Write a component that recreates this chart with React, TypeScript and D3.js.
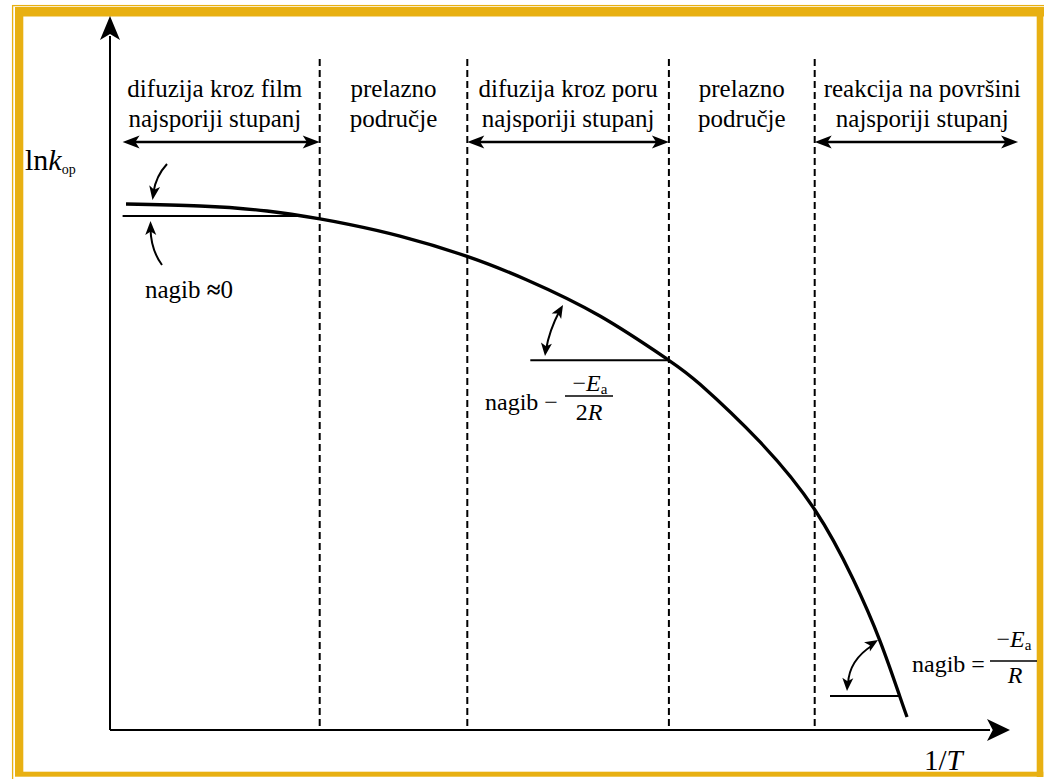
import React from "react";
import * as d3 from "d3";

// ---- data (abstract units: 1/T on x 0..100, ln k_op on y 0..100) ----
const curveX = [1.78, 10.0, 17.44, 23.33, 26.67, 32.22, 39.67, 46.33, 54.44, 61.89, 65.56, 72.22, 78.33, 82.56, 85.56, 87.78, 88.56];
const curveY = [73.67, 73.39, 72.69, 71.57, 70.77, 69.16, 66.34, 63.03, 57.98, 51.96, 48.42, 40.34, 30.81, 21.15, 12.46, 4.62, 1.82];

const regionBounds = [23.3, 39.7, 62.1, 78.3];
const regionEdges = [0, 23.3, 39.7, 62.1, 78.3, 102.2];
const regionLine1 = ["difuzija kroz film", "prelazno", "difuzija kroz poru", "prelazno", "reakcija na površini"];
const regionLine2 = ["najsporiji stupanj", "područje", "najsporiji stupanj", "područje", "najsporiji stupanj"];
const spanStarts = [1.4, 39.7, 78.3];
const spanEnds = [23.3, 62.1, 100.9];

const refX0 = [1.4, 46.7, 80.0];
const refX1 = [21.1, 62.1, 87.8];
const refY = [72.0, 51.8, 4.75];

const FONT = "'Liberation Serif', 'Times New Roman', serif";
const GOLD = "#E8B012";

const xScale = d3.scaleLinear().domain([0, 100]).range([110, 1010]);
const yScale = d3.scaleLinear().domain([0, 100]).range([730, 16]);

function head(tx: number, ty: number, fromX: number, fromY: number, len = 14, hw = 6) {
  const a = Math.atan2(ty - fromY, tx - fromX);
  const bx = tx - len * Math.cos(a);
  const by = ty - len * Math.sin(a);
  const nx = -Math.sin(a) * hw;
  const ny = Math.cos(a) * hw;
  const mx = tx - len * 0.75 * Math.cos(a);
  const my = ty - len * 0.75 * Math.sin(a);
  return `${tx},${ty} ${bx + nx},${by + ny} ${mx},${my} ${bx - nx},${by - ny}`;
}

export default function App() {
  const pts = curveX.map((x, i) => [x, curveY[i]] as [number, number]);
  const line = d3
    .line<[number, number]>()
    .x((d) => xScale(d[0]))
    .y((d) => yScale(d[1]))
    .curve(d3.curveNatural);

  const x0 = xScale(0);
  const y0 = yScale(0);
  const yTop = yScale(100);
  const xEnd = xScale(100);
  const spanY = 142;

  return (
    <svg
      width={1044}
      height={779}
      style={{ position: "absolute", left: 0, top: 0, background: "#fff", fontFamily: FONT }}
    >
      <rect x={0} y={0} width={1044} height={779} fill="#fff" />
      {/* frame */}
      <rect x={12.6} y={5.6} width={1200} height={1200} fill="none" stroke={GOLD} strokeWidth={1.3} />
      <rect x={15} y={7} width={8.3} height={765} fill={GOLD} />
      <rect x={15} y={7} width={1029} height={9.5} fill={GOLD} />
      <rect x={1036.7} y={7} width={6.6} height={770} fill={GOLD} />
      <rect x={15} y={771.7} width={1028.3} height={5} fill={GOLD} />

      {/* axes */}
      <line x1={x0} y1={y0} x2={x0} y2={yTop + 20} stroke="#000" strokeWidth={2} />
      <polygon points={head(x0, yTop, x0, y0, 24, 10)} fill="#000" />
      <line x1={x0} y1={y0} x2={xEnd - 20} y2={y0} stroke="#000" strokeWidth={2} />
      <polygon points={head(xEnd, y0, x0, y0, 23, 11)} fill="#000" />

      {/* region boundaries */}
      {regionBounds.map((b, i) => (
        <line key={i} x1={xScale(b)} y1={59} x2={xScale(b)} y2={y0} stroke="#000" strokeWidth={2} strokeDasharray="7 4" />
      ))}

      {/* region labels */}
      {regionLine1.map((t, i) => {
        const cx = xScale((regionEdges[i] + regionEdges[i + 1]) / 2);
        return (
          <g key={i} fontSize={25} textAnchor="middle" fill="#000" fontFamily={FONT}>
            <text x={cx} y={97}>{t}</text>
            <text x={cx} y={127}>{regionLine2[i]}</text>
          </g>
        );
      })}

      {/* span arrows */}
      {spanStarts.map((s, i) => {
        const a = xScale(s);
        const b = xScale(spanEnds[i]);
        return (
          <g key={i}>
            <line x1={a + 8} y1={spanY} x2={b - 8} y2={spanY} stroke="#000" strokeWidth={2.5} />
            <polygon points={head(a, spanY, b, spanY, 17, 6.5)} fill="#000" />
            <polygon points={head(b, spanY, a, spanY, 17, 6.5)} fill="#000" />
          </g>
        );
      })}

      {/* tangent reference lines */}
      {refY.map((y, i) => (
        <line key={i} x1={xScale(refX0[i])} y1={yScale(y)} x2={xScale(refX1[i])} y2={yScale(y)} stroke="#000" strokeWidth={2} />
      ))}

      {/* main curve */}
      <path d={line(pts) || ""} fill="none" stroke="#000" strokeWidth={3.3} />

      {/* top-left arrows */}
      <path d="M167,164 Q156,176 153.5,192" fill="none" stroke="#000" strokeWidth={2} />
      <polygon points={head(152.5, 200, 155, 184, 14, 5.5)} fill="#000" />
      <path d="M162,265 Q151,250 150.5,229" fill="none" stroke="#000" strokeWidth={2} />
      <polygon points={head(150.5, 221, 150.8, 237, 14, 5.5)} fill="#000" />
      <text x={145} y={298} fontSize={25} fontFamily={FONT}>
        nagib <tspan fontWeight="bold">≈</tspan>0
      </text>

      {/* middle slope arrow */}
      <path d="M560,310 Q549,331 546,350" fill="none" stroke="#000" strokeWidth={2} />
      <polygon points={head(563, 305, 553, 322, 13, 5.5)} fill="#000" />
      <polygon points={head(545, 356, 547, 338, 13, 5.5)} fill="#000" />
      <g fontFamily={FONT}>
        <text x={485} y={410} fontSize={24}>nagib −</text>
        <line x1={565} y1={396} x2={613} y2={396} stroke="#000" strokeWidth={1.5} />
        <text x={590} y={391} fontSize={24} textAnchor="middle">
          −<tspan fontStyle="italic">E</tspan>
          <tspan fontSize={15} dy={3}>a</tspan>
        </text>
        <text x={589} y={420} fontSize={24} textAnchor="middle">
          2<tspan fontStyle="italic">R</tspan>
        </text>
      </g>

      {/* bottom-right slope arrow */}
      <path d="M873,645 Q849,660 848,684" fill="none" stroke="#000" strokeWidth={2} />
      <polygon points={head(878, 640, 862, 650, 13, 5.5)} fill="#000" />
      <polygon points={head(847, 691, 848, 675, 13, 5.5)} fill="#000" />
      <g fontFamily={FONT}>
        <text x={912} y={672} fontSize={24}>nagib =</text>
        <line x1={990} y1={661} x2={1037} y2={661} stroke="#000" strokeWidth={1.5} />
        <text x={1014} y={647} fontSize={24} textAnchor="middle">
          −<tspan fontStyle="italic">E</tspan>
          <tspan fontSize={15} dy={3}>a</tspan>
        </text>
        <text x={1015} y={683} fontSize={24} textAnchor="middle" fontStyle="italic">R</text>
      </g>

      {/* axis labels */}
      <text x={25} y={170} fontSize={30} fontFamily={FONT}>
        ln<tspan fontStyle="italic">k</tspan>
        <tspan fontSize={14} dy={4}>op</tspan>
      </text>
      <text x={924} y={770} fontSize={29} fontFamily={FONT}>
        1/<tspan fontStyle="italic">T</tspan>
      </text>
    </svg>
  );
}
